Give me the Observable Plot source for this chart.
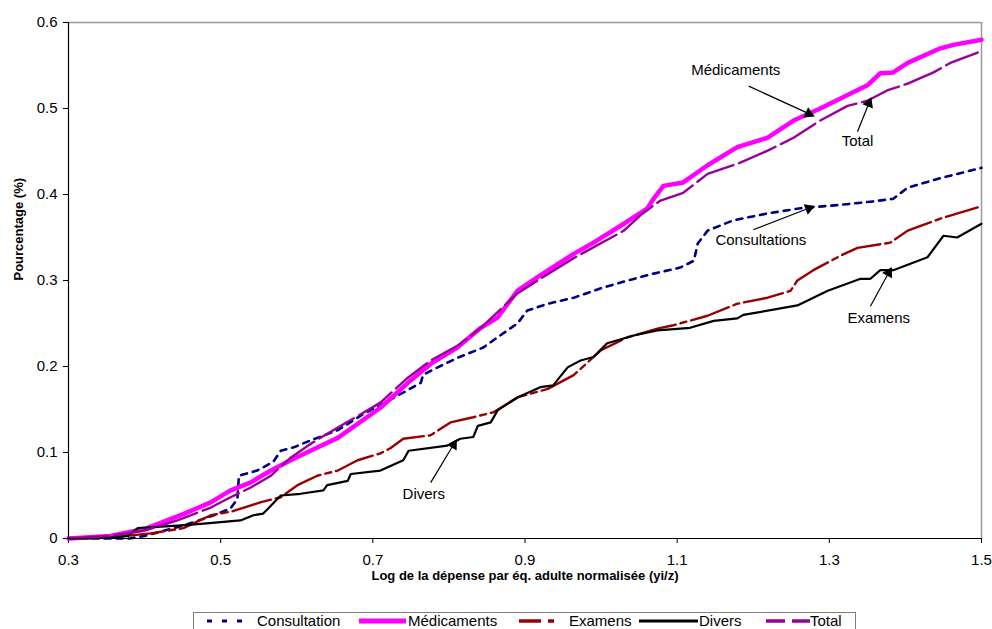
<!DOCTYPE html>
<html>
<head>
<meta charset="utf-8">
<script src="https://cdn.jsdelivr.net/npm/d3@7"></script>
<script src="https://cdn.jsdelivr.net/npm/@observablehq/plot@0.6"></script>
<style>
  html, body { margin: 0; padding: 0; background: #fff; }
  body { width: 992px; height: 629px; position: relative; overflow: hidden; font-family: "Liberation Sans", Arial, sans-serif; }
  #chart { position: absolute; left: 0; top: 0; }
  #legend { position: absolute; left: 193px; top: 612px; width: 663px; height: 30px; border: 1px solid #7f7f7f; box-sizing: border-box; }
  #legend .lbl { position: absolute; font-size: 15px; line-height: 15px; height: 15px; color: #000; white-space: nowrap; }
  #legend svg { position: absolute; left: 0; top: 0; overflow: visible; }
</style>
</head>
<body>
<div id="chart"></div>
<div id="legend"></div>
<script>
// ---- Data ----
const seriesNames = ["Consultation", "Médicaments", "Examens", "Divers", "Total"];

const consultX = [0.30,0.38,0.40,0.451,0.491,0.513,0.522,0.524,0.548,0.569,0.579,0.596,0.618,0.654,0.688,0.72,0.763,0.766,0.776,0.811,0.845,0.864,0.89,0.903,0.93,0.964,1.0,1.035,1.069,1.104,1.122,1.127,1.14,1.174,1.219,1.262,1.315,1.358,1.384,1.403,1.446,1.50];
const consultY = [0,0,0.003,0.015,0.027,0.035,0.046,0.073,0.079,0.089,0.102,0.106,0.114,0.126,0.145,0.16,0.181,0.190,0.195,0.21,0.222,0.234,0.25,0.265,0.273,0.28,0.291,0.3,0.308,0.315,0.323,0.343,0.358,0.37,0.378,0.384,0.388,0.392,0.395,0.408,0.419,0.431];

const medX = [0.30,0.355,0.40,0.45,0.487,0.513,0.539,0.566,0.592,0.618,0.654,0.71,0.746,0.776,0.811,0.842,0.864,0.89,0.92,0.964,0.99,1.03,1.061,1.069,1.082,1.108,1.14,1.179,1.219,1.253,1.288,1.35,1.367,1.384,1.403,1.446,1.463,1.50];
const medY = [0,0.003,0.011,0.028,0.042,0.056,0.065,0.079,0.091,0.102,0.117,0.152,0.181,0.203,0.222,0.245,0.257,0.288,0.306,0.331,0.344,0.366,0.384,0.395,0.41,0.414,0.434,0.455,0.466,0.486,0.5,0.527,0.541,0.542,0.553,0.570,0.574,0.580];

const examX = [0.30,0.355,0.408,0.451,0.487,0.517,0.552,0.579,0.601,0.627,0.654,0.68,0.71,0.723,0.74,0.776,0.802,0.832,0.859,0.89,0.93,0.964,1.0,1.035,1.074,1.095,1.14,1.179,1.219,1.249,1.258,1.279,1.315,1.337,1.38,1.403,1.446,1.495];
const examY = [0,0.001,0.006,0.012,0.027,0.032,0.042,0.048,0.062,0.073,0.079,0.091,0.099,0.105,0.116,0.12,0.135,0.141,0.147,0.164,0.174,0.19,0.219,0.234,0.244,0.248,0.259,0.273,0.28,0.288,0.300,0.312,0.329,0.338,0.344,0.358,0.372,0.385];

const diversX = [0.30,0.355,0.378,0.391,0.443,0.474,0.526,0.543,0.556,0.579,0.605,0.635,0.64,0.667,0.671,0.71,0.74,0.747,0.798,0.815,0.832,0.838,0.855,0.864,0.89,0.92,0.937,0.956,0.973,0.99,1.008,1.043,1.074,1.117,1.148,1.179,1.187,1.258,1.298,1.341,1.354,1.367,1.384,1.429,1.45,1.468,1.50];
const diversY = [0,0.001,0.003,0.012,0.015,0.017,0.021,0.027,0.029,0.050,0.052,0.056,0.062,0.067,0.075,0.079,0.091,0.102,0.108,0.116,0.118,0.131,0.135,0.149,0.164,0.176,0.178,0.199,0.207,0.211,0.227,0.236,0.242,0.245,0.253,0.256,0.26,0.271,0.288,0.302,0.302,0.312,0.312,0.327,0.352,0.35,0.366];

const totalX = [0.30,0.355,0.399,0.443,0.487,0.513,0.539,0.566,0.592,0.618,0.654,0.71,0.746,0.776,0.811,0.842,0.89,0.92,0.964,1.03,1.052,1.078,1.108,1.14,1.183,1.219,1.253,1.288,1.324,1.35,1.376,1.403,1.437,1.459,1.495];
const totalY = [0,0.003,0.009,0.021,0.036,0.048,0.059,0.073,0.094,0.110,0.129,0.158,0.187,0.207,0.224,0.245,0.285,0.302,0.326,0.358,0.376,0.393,0.402,0.424,0.437,0.451,0.466,0.486,0.503,0.509,0.521,0.529,0.542,0.553,0.565];

const xTicks = [0.3, 0.5, 0.7, 0.9, 1.1, 1.3, 1.5];
const xTickLabels = ["0.3", "0.5", "0.7", "0.9", "1.1", "1.3", "1.5"];
const yTicks = [0, 0.1, 0.2, 0.3, 0.4, 0.5, 0.6];
const yTickLabels = ["0", "0.1", "0.2", "0.3", "0.4", "0.5", "0.6"];

const xLabel = "Log de la dépense par éq. adulte normalisée (yi/z)";
const yLabel = "Pourcentage (%)";

// Annotations: label position and arrow (data units)
const annLabels = ["Médicaments", "Total", "Consultations", "Examens", "Divers"];
const annTextX = [1.177, 1.337, 1.21, 1.365, 0.767];
const annTextY = [0.544, 0.462, 0.347, 0.256, 0.052];
const annArrowX1 = [1.194, 1.337, 1.20, 1.354, 0.776];
const annArrowY1 = [0.526, 0.473, 0.359, 0.270, 0.065];
const annArrowX2 = [1.273, 1.352, 1.273, 1.378, 0.806];
const annArrowY2 = [0.494, 0.506, 0.384, 0.309, 0.109];

// ---- Styles ----
const styles = {
  "Consultation": {stroke: "#000080", strokeWidth: 2.6, dash: "6,6"},
  "Médicaments": {stroke: "#ff00ff", strokeWidth: 4.5, dash: null},
  "Examens": {stroke: "#990000", strokeWidth: 2.4, dash: "40,5,6,5"},
  "Divers": {stroke: "#000000", strokeWidth: 2.2, dash: null},
  "Total": {stroke: "#990099", strokeWidth: 2.4, dash: "40,6"}
};

const toRows = (xs, ys) => xs.map((x, i) => ({x, y: ys[i]}));
const seriesData = {
  "Consultation": toRows(consultX, consultY),
  "Médicaments": toRows(medX, medY),
  "Examens": toRows(examX, examY),
  "Divers": toRows(diversX, diversY),
  "Total": toRows(totalX, totalY)
};

const ann = annLabels.map((t, i) => ({t, tx: annTextX[i], ty: annTextY[i], x1: annArrowX1[i], y1: annArrowY1[i], x2: annArrowX2[i], y2: annArrowY2[i]}));

const lineMarks = seriesNames.map(name => {
  const s = styles[name];
  const opts = {x: "x", y: "y", stroke: s.stroke, strokeWidth: s.strokeWidth, strokeLinejoin: "round"};
  if (s.dash) opts.strokeDasharray = s.dash;
  return Plot.line(seriesData[name], opts);
});

const baseOptions = {
  width: 992,
  height: 606,
  marginLeft: 68,
  marginRight: 11,
  marginTop: 22,
  marginBottom: 68,
  style: {fontFamily: "'Liberation Sans', Arial, sans-serif", fontSize: "15px", color: "#000", background: "#fff", overflow: "visible"},
  x: {domain: [0.3, 1.5], label: null},
  y: {domain: [0, 0.6], label: null}
};

// first pass to obtain the scales (for orienting the filled arrowheads)
const probe = Plot.plot({...baseOptions, marks: [Plot.ruleY([0])]});
const sx = probe.scale("x"), sy = probe.scale("y");
ann.forEach(d => {
  const dx = sx.apply(d.x2) - sx.apply(d.x1);
  const dy = sy.apply(d.y2) - sy.apply(d.y1);
  d.angle = Math.atan2(dx, -dy) * 180 / Math.PI;
});

const chart = Plot.plot({
  ...baseOptions,
  marks: [
    Plot.ruleY([0.6], {stroke: "#999", strokeWidth: 1.5}),
    Plot.ruleX([1.5], {stroke: "#999", strokeWidth: 1.5}),
    Plot.axisX(xTicks, {tickSize: 5, tickPadding: 11, fontSize: 15, tickFormat: (d, i) => xTickLabels[i], label: null}),
    Plot.axisY(yTicks, {tickSize: 5, tickPadding: 6, fontSize: 15, tickFormat: (d, i) => yTickLabels[i], label: null}),
    ...lineMarks,
    Plot.ruleY([0], {stroke: "#000", strokeWidth: 1.2}),
    Plot.ruleX([0.3], {stroke: "#000", strokeWidth: 1.2}),
    Plot.link(ann, {x1: "x1", y1: "y1", x2: "x2", y2: "y2", stroke: "#000", strokeWidth: 1.2}),
    Plot.dot(ann, {x: "x2", y: "y2", symbol: "triangle", rotate: "angle", r: 4.2, fill: "#000", stroke: "none", dx: 0}),
    Plot.text(ann, {x: "tx", y: "ty", text: "t", fontSize: 15, fill: "#000"}),
    Plot.text([xLabel], {frameAnchor: "bottom", dy: 41, fontWeight: "bold", fontSize: 13, fill: "#000"}),
    Plot.text([yLabel], {frameAnchor: "left", dx: -50, rotate: -90, fontWeight: "bold", fontSize: 13, fill: "#000"})
  ]
});
document.getElementById("chart").appendChild(chart);

// ---- Legend (positions relative to the legend box) ----
const legend = d3.select("#legend");
const legendSpec = [
  {name: "Consultation", s0: 13, s1: 50, tx: 63, w: 3, dash: "5,10"},
  {name: "Médicaments", s0: 165, s1: 212, tx: 214, w: 5, dash: null},
  {name: "Examens", s0: 325, s1: 361, tx: 375, w: 3.5, dash: "22,7,6,10"},
  {name: "Divers", s0: 445, s1: 504, tx: 505, w: 3, dash: null},
  {name: "Total", s0: 572, s1: 616, tx: 616, w: 3.5, dash: "19,7"}
];
const lsvg = legend.append("svg").attr("width", 661).attr("height", 28);
legendSpec.forEach(item => {
  const s = styles[item.name];
  lsvg.append("line")
    .attr("x1", item.s0).attr("x2", item.s1).attr("y1", 8).attr("y2", 8)
    .attr("stroke", s.stroke)
    .attr("stroke-width", item.w)
    .attr("stroke-dasharray", item.dash);
  legend.append("div").attr("class", "lbl")
    .style("left", item.tx + "px").style("top", "0px")
    .text(item.name);
});
</script>
</body>
</html>
